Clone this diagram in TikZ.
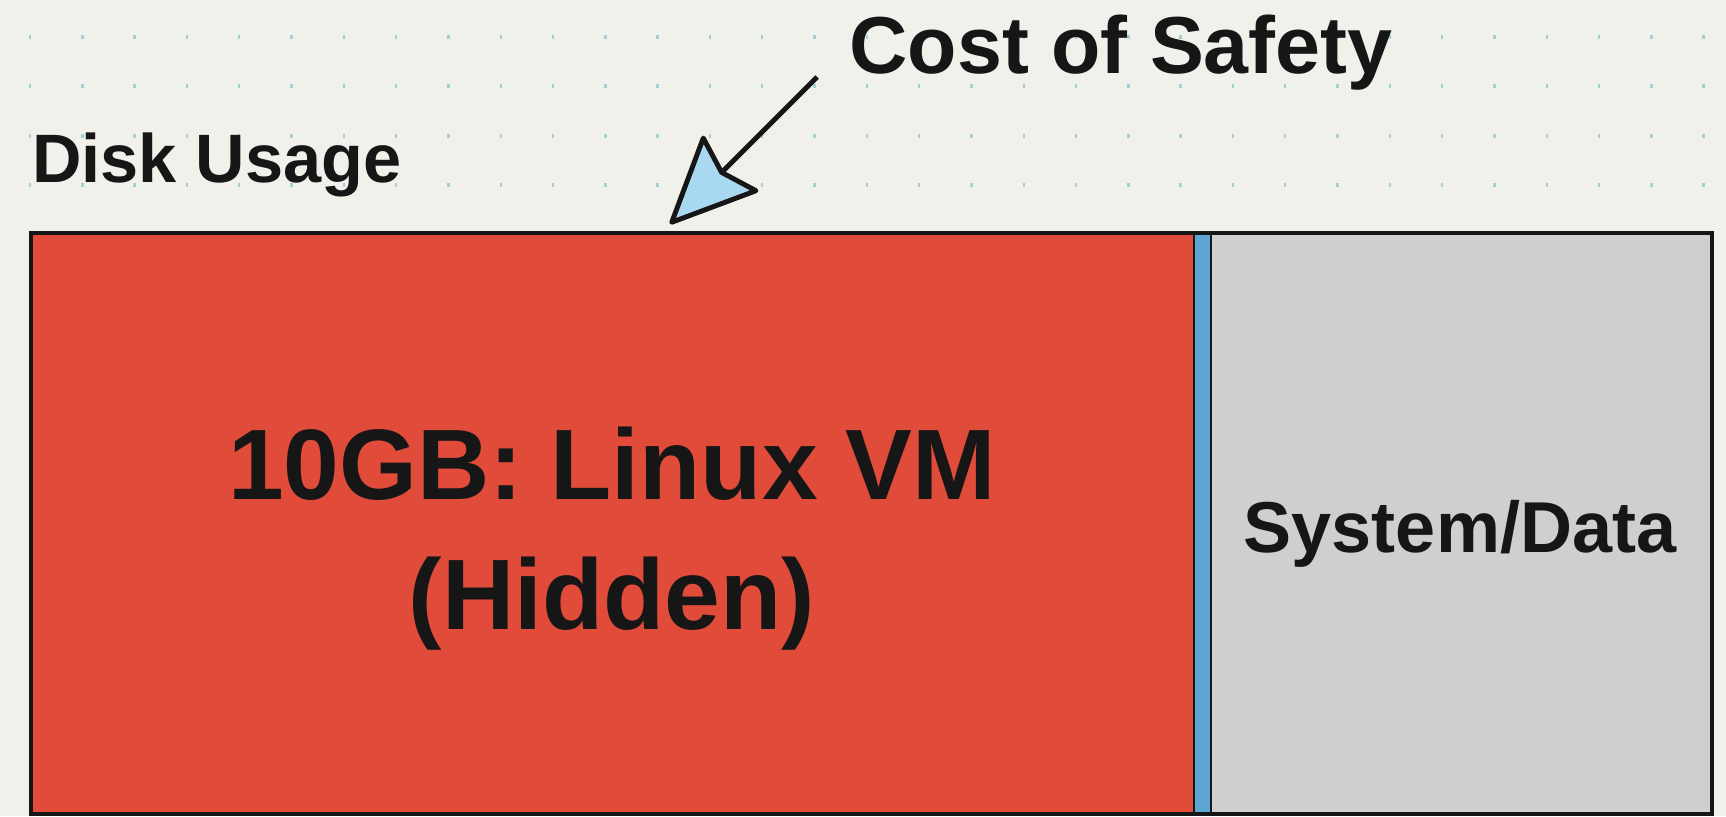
\documentclass[tikz,border=0pt]{standalone}
\usepackage{fontspec}
\setmainfont{Liberation Sans}
\usetikzlibrary{arrows.meta}

\definecolor{paper}{HTML}{F1F1EC}
\definecolor{dotteal}{HTML}{A6CFD5}
\definecolor{ink}{HTML}{161616}
\definecolor{vmred}{HTML}{E04B3A}
\definecolor{sysgrey}{HTML}{CFCFCF}
\definecolor{sepblue}{HTML}{5DA5D2}
\definecolor{tipblue}{HTML}{A9D9F0}

\begin{document}
\begin{tikzpicture}[x=0.02cm, y=-0.02cm,
  lab/.style={inner sep=0pt, text=ink},
  griddot/.style={fill=dotteal},
  pointer/.style={-{Stealth[length=52pt, width=47pt, inset=7pt, fill=tipblue, round]},
                  line width=2.8pt, draw=ink},
  frame/.style={draw=ink, line width=2.2pt},
  ]

% ---- Canvas ----------------------------------------------------------------
\useasboundingbox[fill=paper] (0,0) rectangle (1726,816);

% ---- Dot grid --------------------------------------------------------------
\foreach \i in {0,...,32} {
  \foreach \j in {0,...,3} {
    \fill[griddot] (30+52.3*\i-1.2, 37+49.3*\j-2) rectangle ++(2.4,4);
  }
}

% ---- Disk bar --------------------------------------------------------------
\fill[vmred] (31,233) rectangle (1194,814);      % VM share
\fill[sepblue] (1194,233) rectangle (1211,814);  % thin divider
\fill[sysgrey] (1211,233) rectangle (1712,814);  % the rest
\draw[ink, line width=1.4pt] (1194,233) -- (1194,814) (1211,233) -- (1211,814);
\draw[frame] (31,233) rectangle (1712,814);

% ---- Labels ----------------------------------------------------------------
\node[lab, anchor=base, font=\bfseries\fontsize{39}{47}\selectfont]
  (disk) at (217,182) {Disk Usage};
\node[lab, anchor=base, font=\bfseries\fontsize{46}{55}\selectfont]
  (cost) at (1121,73) {Cost of Safety};
\node[lab, align=center, font=\bfseries\fontsize{57}{74}\selectfont]
  (vm) at (612,539) {10GB: Linux VM\\(Hidden)};
\node[lab, anchor=base, font=\bfseries\fontsize{41}{49}\selectfont]
  (sys) at (1460,552) {System/Data};

% ---- Pointer ---------------------------------------------------------------
\coordinate (tail) at (817,77);
\coordinate (tip) at (670,224);
\draw[pointer] (tail) -- (tip);

\end{tikzpicture}
\end{document}
